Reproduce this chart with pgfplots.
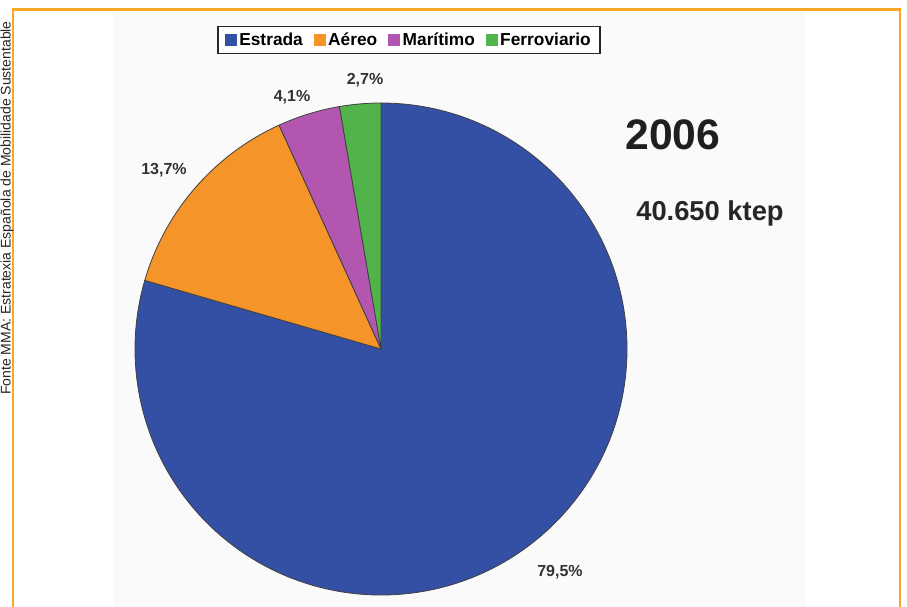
\documentclass[border=0pt]{standalone}
\usepackage{pgfplots}
\usepackage{pgfplotstable}
\pgfplotsset{compat=1.18}
\usepackage{fontspec}
\setmainfont{Liberation Sans}
\definecolor{cEst}{RGB}{52,80,165}
\definecolor{cAer}{RGB}{245,148,40}
\definecolor{cMar}{RGB}{178,86,176}
\definecolor{cFer}{RGB}{80,180,75}
\definecolor{frame}{RGB}{248,168,35}
\definecolor{bggrey}{RGB}{250,250,250}
\pgfplotstableread{
label value colour
Estrada 79.5 cEst
Aereo 13.7 cAer
Maritimo 4.1 cMar
Ferroviario 2.7 cFer
}\piedata
\def\pieR{184.5pt}
\newcommand\piesector[2]{%
  \pgfplotstablegetelem{#1}{value}\of\piedata
  \pgfmathsetmacro\pieend{\piestart-3.6*\pgfplotsretval}%
  \edef\temp{\noexpand\filldraw[fill=#2, draw=black!75, line width=0.6pt, line join=round]
    (axis cs:0,0) -- (axis cs:{cos(\piestart)},{sin(\piestart)})
    arc[start angle=\piestart, end angle=\pieend, radius=\pieR] -- cycle;}%
  \temp
  \global\let\piestart\pieend
}
\begin{document}
\begin{tikzpicture}[x=0.75pt,y=-0.75pt]
\useasboundingbox (0,0) rectangle (907,607);
\clip (0,0) rectangle (907,607);
\fill[white] (0,0) rectangle (907,607);
\fill[bggrey] (113,12) rectangle (805,607);
\draw[frame, line width=2pt] (13,620) -- (13,9.5) -- (900,9.5) -- (900,620);
\node[rotate=90, anchor=base west, font=\fontsize{10.5}{12}\selectfont, text=black!85, inner sep=0pt]
  at (10.5,395) {Fonte MMA: Estratexia Española de Mobilidade Sustentable};
\coordinate (piecentre) at (381,349);
\begin{axis}[
  at={(piecentre)}, anchor=center,
  scale only axis, width=369pt, height=369pt,
  xmin=-1, xmax=1, ymin=-1, ymax=1,
  hide axis, clip=false,
  legend columns=4,
  legend style={at={(axis cs:0.114,1.256)}, anchor=center,
    draw=black!85, line width=1.2pt, fill=white,
    font=\fontsize{13}{15}\bfseries\selectfont,
    inner xsep=5pt, inner ysep=2.5pt,
    /tikz/every even column/.append style={column sep=6pt}},
  legend cell align=left,
]
\def\piestart{90}
\piesector{0}{cEst}
\piesector{1}{cAer}
\piesector{2}{cMar}
\piesector{3}{cFer}
\addlegendimage{legend image code/.code={\fill[cEst] (0pt,-3.9pt) rectangle (7.8pt,3.9pt);}}
\addlegendentry{Estrada}
\addlegendimage{legend image code/.code={\fill[cAer] (0pt,-3.9pt) rectangle (7.8pt,3.9pt);}}
\addlegendentry{Aéreo}
\addlegendimage{legend image code/.code={\fill[cMar] (0pt,-3.9pt) rectangle (7.8pt,3.9pt);}}
\addlegendentry{Marítimo}
\addlegendimage{legend image code/.code={\fill[cFer] (0pt,-3.9pt) rectangle (7.8pt,3.9pt);}}
\addlegendentry{Ferroviario}
\end{axis}
\begin{scope}[every node/.style={font=\fontsize{12}{14}\bfseries\selectfont, text=black!80, inner sep=0pt}]
\node at (365,80) {2,7\%};
\node at (292,97) {4,1\%};
\node at (164,170) {13,7\%};
\node at (560,572) {79,5\%};
\end{scope}
\node[font=\fontsize{32}{36}\bfseries\selectfont, text=black!88, inner sep=0pt] at (673,135) {2006};
\node[font=\fontsize{20.5}{24}\bfseries\selectfont, text=black!85, inner sep=0pt, anchor=base] at (710,220) {40.650 ktep};
\end{tikzpicture}
\end{document}
